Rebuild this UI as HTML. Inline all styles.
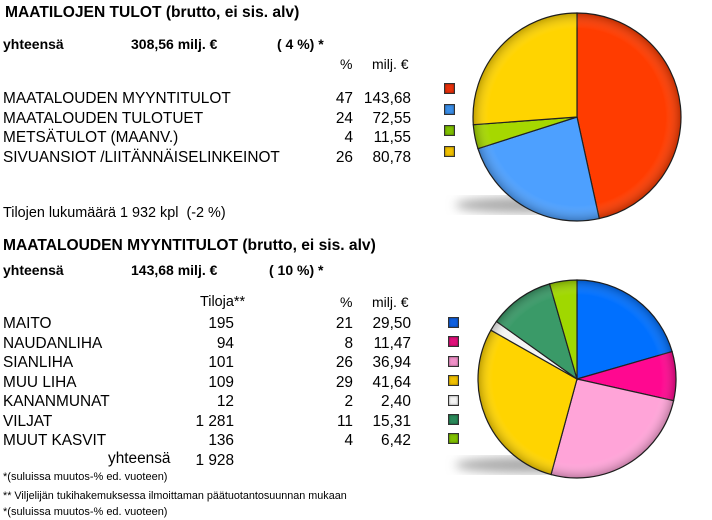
<!DOCTYPE html>
<html><head><meta charset="utf-8"><style>
body{margin:0;width:712px;height:520px;background:#fff;position:relative;overflow:hidden;font-family:"Liberation Sans",Arial,sans-serif;color:#000}
.t{position:absolute;white-space:nowrap;line-height:1}
.b{font-weight:bold}
.r{text-align:right}
.sq{position:absolute;width:9px;height:9px;border:1px solid #333;box-shadow:inset 0 0 2px rgba(0,0,0,.5)}
svg{position:absolute;left:0;top:0}
</style></head><body>
<svg width="712" height="520" id="s">
<defs>
<filter id="bl"><feGaussianBlur stdDeviation="5"/></filter>
<radialGradient id="sh" cx="0.5" cy="0.5" r="0.5"><stop offset="0.85" stop-color="#fff" stop-opacity="0"/><stop offset="1" stop-color="#000" stop-opacity="0.25"/></radialGradient>
</defs>
<ellipse cx="530" cy="205" rx="75" ry="8" fill="#aaa" filter="url(#bl)"/>
<ellipse cx="530" cy="465" rx="75" ry="8" fill="#aaa" filter="url(#bl)"/>
<g id="p1"></g><g id="p2"></g>
</svg>

<div class="t b" style="left:5px;top:5px;font-size:15.6px">MAATILOJEN TULOT (brutto, ei sis. alv)</div>
<div class="t b" style="left:3px;top:37px;font-size:14px">yhteensä</div>
<div class="t b" style="left:131px;top:37px;font-size:14px">308,56 milj. €</div>
<div class="t b" style="left:277px;top:37px;font-size:14px">( 4 %) *</div>
<div class="t" style="left:340px;top:57px;font-size:14px">%</div>
<div class="t" style="left:372px;top:57px;font-size:14px">milj. €</div>

<div class="t" style="left:3px;top:89px;font-size:15.4px;line-height:19.5px">MAATALOUDEN MYYNTITULOT<br>MAATALOUDEN TULOTUET<br>METSÄTULOT (MAANV.)<br>SIVUANSIOT /LIITÄNNÄISELINKEINOT</div>
<div class="t r" style="left:320px;width:33px;top:89px;font-size:15.4px;line-height:19.5px">47<br>24<br>4<br>26</div>
<div class="t r" style="left:350px;width:61px;top:89px;font-size:15.4px;line-height:19.5px">143,68<br>72,55<br>11,55<br>80,78</div>
<div class="sq" style="left:444px;top:83px;background:#e8300a"></div>
<div class="sq" style="left:444px;top:104px;background:#3a8ee8"></div>
<div class="sq" style="left:444px;top:125px;background:#7fc000"></div>
<div class="sq" style="left:444px;top:146px;background:#f0c000"></div>

<div class="t" style="left:3px;top:206px;font-size:14.4px">Tilojen lukumäärä 1 932 kpl&nbsp; (-2 %)</div>

<div class="t b" style="left:3px;top:238px;font-size:15.6px">MAATALOUDEN MYYNTITULOT (brutto, ei sis. alv)</div>
<div class="t b" style="left:3px;top:263px;font-size:14px">yhteensä</div>
<div class="t b" style="left:131px;top:263px;font-size:14px">143,68 milj. €</div>
<div class="t b" style="left:269px;top:263px;font-size:14px">( 10 %) *</div>
<div class="t" style="left:200px;top:295px;font-size:14.4px">Tiloja**</div>
<div class="t" style="left:340px;top:295px;font-size:14px">%</div>
<div class="t" style="left:372px;top:295px;font-size:14px">milj. €</div>

<div class="t" style="left:3px;top:314px;font-size:15.4px;line-height:19.5px">MAITO<br>NAUDANLIHA<br>SIANLIHA<br>MUU LIHA<br>KANANMUNAT<br>VILJAT<br>MUUT KASVIT</div>
<div class="t r" style="left:170px;width:64px;top:314px;font-size:15.4px;line-height:19.5px">195<br>94<br>101<br>109<br>12<br>1 281<br>136<br>1 928</div>
<div class="t" style="left:108px;top:451px;font-size:15.4px">yhteensä</div>
<div class="t r" style="left:320px;width:33px;top:314px;font-size:15.4px;line-height:19.5px">21<br>8<br>26<br>29<br>2<br>11<br>4</div>
<div class="t r" style="left:350px;width:61px;top:314px;font-size:15.4px;line-height:19.5px">29,50<br>11,47<br>36,94<br>41,64<br>2,40<br>15,31<br>6,42</div>
<div class="sq" style="left:448px;top:317px;background:#1060e0"></div>
<div class="sq" style="left:448px;top:336px;background:#e0107a"></div>
<div class="sq" style="left:448px;top:356px;background:#f090c8"></div>
<div class="sq" style="left:448px;top:375px;background:#f0c000"></div>
<div class="sq" style="left:448px;top:395px;background:#f4f4f4"></div>
<div class="sq" style="left:448px;top:414px;background:#2a8a5a"></div>
<div class="sq" style="left:448px;top:433px;background:#7fc000"></div>

<div class="t" style="left:3px;top:472px;font-size:11px">*(suluissa muutos-% ed. vuoteen)</div>
<div class="t" style="left:3px;top:491px;font-size:10.8px">** Viljelijän tukihakemuksessa ilmoittaman päätuotantosuunnan mukaan</div>
<div class="t" style="left:3px;top:507px;font-size:11px">*(suluissa muutos-% ed. vuoteen)</div>

<script>
function pie(id,cx,cy,r,vals,cols){
 var g=document.getElementById(id),t=vals.reduce(function(a,b){return a+b},0),a=-Math.PI/2,h='';
 vals.forEach(function(v,i){
  var b=a+v/t*2*Math.PI,x1=cx+r*Math.cos(a),y1=cy+r*Math.sin(a),x2=cx+r*Math.cos(b),y2=cy+r*Math.sin(b);
  h+='<path d="M'+cx+','+cy+'L'+x1+','+y1+'A'+r+','+r+' 0 '+((b-a)>Math.PI?1:0)+' 1 '+x2+','+y2+'Z" fill="'+cols[i]+'" stroke="#222" stroke-width="1.2"/>';
  a=b;});
 h+='<circle cx="'+cx+'" cy="'+cy+'" r="'+r+'" fill="url(#sh)"/>';
 g.innerHTML=h;
}
pie('p1',577,117,104,[143.68,72.55,11.55,80.78],['#ff3c00','#4da0ff','#a6d800','#ffd400']);
pie('p2',577,379,99,[29.5,11.47,36.94,41.64,2.4,15.31,6.42],['#0070ff','#ff0890','#ffa4d8','#ffd400','#f4f4f4','#3a9a68','#a0d800']);
</script>
</body></html>
